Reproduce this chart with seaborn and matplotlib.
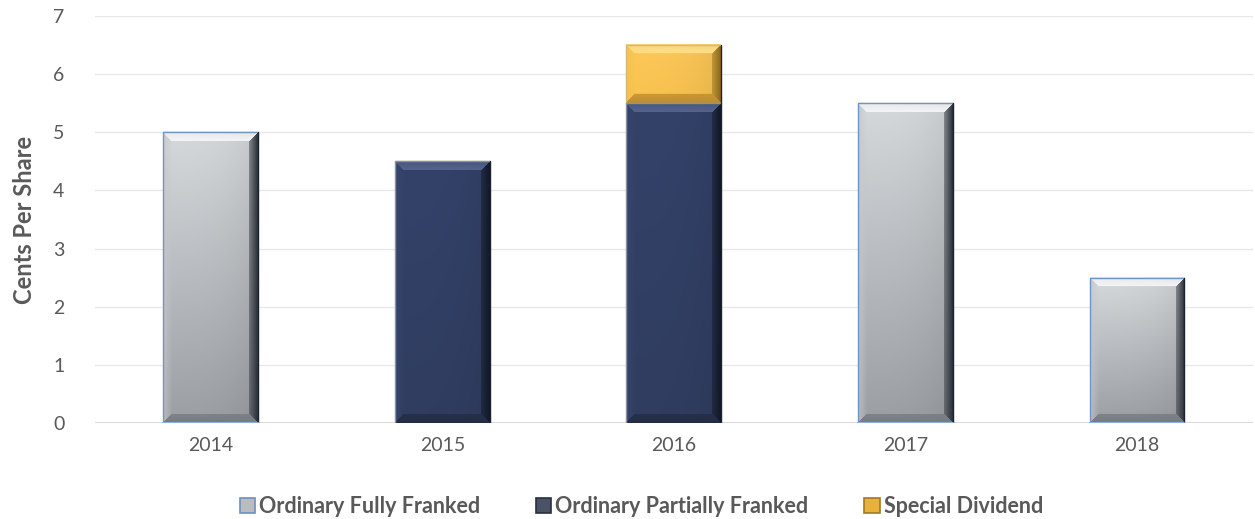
import numpy as np
import pandas as pd
import matplotlib
matplotlib.use("Agg")
import matplotlib.pyplot as plt
import seaborn as sns
from matplotlib.patches import Patch

# ---- data ----
years = ["2014", "2015", "2016", "2017", "2018"]
fully_franked = [5.0, 0.0, 0.0, 5.5, 2.5]
partially_franked = [0.0, 4.5, 5.5, 0.0, 0.0]
special_dividend = [0.0, 0.0, 1.0, 0.0, 0.0]
series_names = ["Ordinary Fully Franked", "Ordinary Partially Franked", "Special Dividend"]
yticks = [0, 1, 2, 3, 4, 5, 6, 7]

colors = {
    "Ordinary Fully Franked": "#b9bcc0",
    "Ordinary Partially Franked": "#344266",
    "Special Dividend": "#fcc653",
}
TXT = "#595959"

sns.set_theme(style="white")
plt.rcParams["font.family"] = ["Lato", "DejaVu Sans"]

fig = plt.figure(figsize=(12.55, 5.19), dpi=100)
ax = fig.add_axes([0.0757, 0.185, 0.9225, 0.784])

df = pd.DataFrame({
    "year": years,
    "fully": fully_franked,
    "partial": partially_franked,
    "special": special_dividend,
})
df["top"] = df["fully"] + df["partial"] + df["special"]

W = 0.41
# stacked: totals (special on top) first, then lower segments over it
sns.barplot(data=df, x="year", y="top", color=colors["Special Dividend"], width=W,
            linewidth=0, ax=ax, saturation=1, zorder=2)
sns.barplot(data=df, x="year", y="partial", color=colors["Ordinary Partially Franked"], width=W,
            linewidth=0, ax=ax, saturation=1, zorder=3)
sns.barplot(data=df, x="year", y="fully", color=colors["Ordinary Fully Franked"], width=W,
            linewidth=0, ax=ax, saturation=1, zorder=4)

ax.set_ylim(0, 7)
ax.set_xlim(-0.5, 4.5)
fig.canvas.draw()

rgb = lambda h: np.array(matplotlib.colors.to_rgb(h))

STYLE = {
    "fully": dict(top=rgb("#d6d9dc"), bot=rgb("#9b9ea2"), tb=rgb("#f4f5f6"), bb=rgb("#74777c"),
                  lb=rgb("#c4c7ca"), rb=rgb("#2e343c")),
    "partial": dict(top=rgb("#34426a"), bot=rgb("#303d60"), tb=rgb("#56658d"), bb=rgb("#222b44"),
                    lb=rgb("#38476e"), rb=rgb("#121826")),
    "special": dict(top=rgb("#fdc85a"), bot=rgb("#f8c24e"), tb=rgb("#fde08c"), bb=rgb("#b8892a"),
                    lb=rgb("#f5bf4c"), rb=rgb("#8c6a1c")),
}

def bevel_img(wpx, hpx, kind, bev=9.0):
    st = STYLE[kind]
    i = np.arange(hpx)[:, None] * np.ones((1, wpx))
    j = np.ones((hpx, 1)) * np.arange(wpx)[None, :]
    t = (i / max(hpx - 1, 1))[..., None]
    img = st["top"][None, None, :] * (1 - t) + st["bot"][None, None, :] * t
    u = (j / max(wpx - 1, 1))[..., None]
    img = img * (1 - 0.08 * u ** 3)
    d = np.stack([i, hpx - 1 - i, j, wpx - 1 - j])
    amin = d.argmin(0); dmin = d.min(0)
    s = np.clip(dmin / bev, 0, 1)
    weights = [0.6 + 0.4 * s, 0.9 - 0.2 * s, 0.7 * (1 - s), 1 - 0.6 * s]
    for k, key in enumerate(["tb", "bb", "lb", "rb"]):
        m = (dmin < bev) & (amin == k)
        wgt = weights[k][m][:, None]
        img[m] = img[m] * (1 - wgt) + st[key][None, :] * wgt
    return np.clip(img, 0, 1)

inv = ax.transData
for p in list(ax.patches):
    h = p.get_height()
    if h <= 0:
        p.remove()
        continue
    col = matplotlib.colors.to_hex(p.get_facecolor()[:3])
    if col == matplotlib.colors.to_hex(colors["Ordinary Fully Franked"]):
        kind = "fully"
    elif col == matplotlib.colors.to_hex(colors["Ordinary Partially Franked"]):
        kind = "partial"
    else:
        kind = "special"
    x0 = p.get_x(); y0 = p.get_y(); w = p.get_width()
    y_lo = y0
    if kind == "special":
        idx = int(round(x0 + w / 2))
        y_lo = df["partial"].iloc[idx] + df["fully"].iloc[idx]
    (px0, py0) = inv.transform((x0, y_lo)); (px1, py1) = inv.transform((x0 + w, y0 + h))
    wpx = max(int(round(px1 - px0)), 2); hpx = max(int(round(py1 - py0)), 2)
    img = bevel_img(wpx, hpx, kind)
    ax.imshow(img, extent=(x0, x0 + w, y_lo, y0 + h), aspect="auto", origin="upper",
              zorder=p.get_zorder() + 0.5, interpolation="bilinear")
    if kind == "fully":
        edge = "#7094c4"
    elif kind == "partial":
        edge = "#8a92a6"
    else:
        edge = "#d8b870"
    ax.plot([x0, x0, x0 + w], [y_lo, y0 + h, y0 + h], color=edge, lw=1.0,
            zorder=p.get_zorder() + 0.6, solid_capstyle="butt")
    ax.plot([x0 + w, x0 + w], [y_lo, y0 + h], color="#1c2330", lw=1.0, zorder=p.get_zorder() + 0.6)
    if kind == "fully":
        ax.plot([x0, x0 + w], [0.0, 0.0], color="#8fb0dc", lw=1.5, zorder=p.get_zorder() + 0.7)

ax.set_xlim(-0.5, 4.5)
ax.set_ylim(0, 7)
ax.set_yticks(yticks)
ax.yaxis.grid(True, color="#e8e8e8", lw=1.0, zorder=0)
ax.set_axisbelow(True)
for s in ["top", "right", "left", "bottom"]:
    ax.spines[s].set_visible(False)
ax.axhline(0, color="#d4d4d4", lw=1.2, zorder=1)
ax.tick_params(axis="both", length=0, labelsize=14, labelcolor=TXT)
ax.tick_params(axis="y", pad=22)
ax.tick_params(axis="x", pad=10)
ax.set_xlabel("")
ax.set_ylabel("Cents Per Share", fontsize=17, fontweight="bold", color=TXT, labelpad=12)

handles = [Patch(facecolor="#b9bcc0", edgecolor="#6d8fc0", lw=1.2),
           Patch(facecolor="#4a5266", edgecolor="#2a3040", lw=1.2),
           Patch(facecolor="#e8b13a", edgecolor="#a07a20", lw=1.2)]
fig.legend(handles, series_names, loc="center", bbox_to_anchor=(0.511, 0.024), ncol=3, frameon=False,
           prop={"family": ["Lato", "DejaVu Sans"], "weight": "bold", "size": 15.5},
           labelcolor=TXT, handlelength=0.7, handleheight=0.7, handletextpad=0.2, columnspacing=2.6)

fig.savefig("out.png", dpi=100)
